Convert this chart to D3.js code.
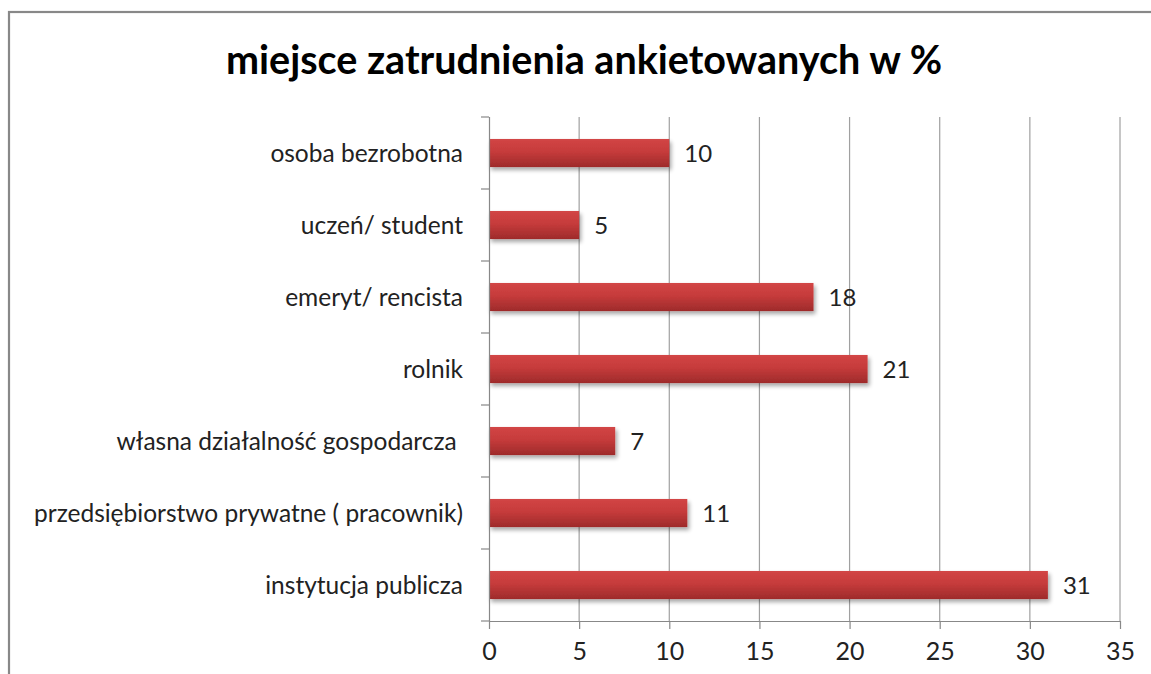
<!DOCTYPE html>
<html><head><meta charset="utf-8">
<script src="https://cdn.jsdelivr.net/npm/d3@7"></script>
<style>body{margin:0;background:#fff;} svg{display:block;}</style>
</head><body>
<svg id="chart" width="1151" height="674"></svg>
<script>
const title = "miejsce zatrudnienia ankietowanych w %";
const categories = ["osoba bezrobotna","uczeń/ student","emeryt/ rencista","rolnik","własna działalność gospodarcza ","przedsiębiorstwo prywatne ( pracownik)","instytucja publicza"];
const values = [10,5,18,21,7,11,31];
const xTicks = [0,5,10,15,20,25,30,35];

const svg = d3.select("#chart");
const font = "Lato, 'Open Sans', sans-serif";
const M = {left:489, right:1120, top:117, bottom:621};

svg.append("rect").attr("x",9).attr("y",12).attr("width",1200).attr("height",700)
  .attr("fill","#fff").attr("stroke","#888").attr("stroke-width",2.2);

const defs = svg.append("defs");
const g = defs.append("linearGradient").attr("id","barg").attr("x1",0).attr("y1",0).attr("x2",0).attr("y2",1);
g.append("stop").attr("offset","0%").attr("stop-color","#d24545");
g.append("stop").attr("offset","45%").attr("stop-color","#c63b3b");
g.append("stop").attr("offset","100%").attr("stop-color","#9e2b2b");
const f = defs.append("filter").attr("id","sh").attr("x","-5%").attr("y","-30%").attr("width","115%").attr("height","180%");
f.append("feGaussianBlur").attr("in","SourceAlpha").attr("stdDeviation",2.2).attr("result","b");
f.append("feOffset").attr("in","b").attr("dx",2).attr("dy",3).attr("result","o");
f.append("feComponentTransfer").attr("in","o").attr("result","o2").append("feFuncA").attr("type","linear").attr("slope",0.35);
const fm = f.append("feMerge"); fm.append("feMergeNode").attr("in","o2"); fm.append("feMergeNode").attr("in","SourceGraphic");

const x = d3.scaleLinear().domain([0,35]).range([M.left,M.right]);
const y = d3.scaleBand().domain(categories).range([M.top,M.bottom]).paddingInner(0.61).paddingOuter(0.305);

svg.append("text").attr("x",584).attr("y",74).attr("text-anchor","middle")
  .attr("font-family",font).attr("font-weight","bold").attr("font-size",39.5).attr("fill","#000").text(title);

// gridlines
svg.append("g").selectAll("line").data(xTicks.filter(d=>d>0)).join("line")
  .attr("x1",d=>x(d)).attr("x2",d=>x(d)).attr("y1",M.top).attr("y2",M.bottom)
  .attr("stroke","#a0a0a0").attr("stroke-width",1.2);

// bars
svg.append("g").selectAll("rect").data(values).join("rect")
  .attr("x",x(0)).attr("y",(d,i)=>y(categories[i])).attr("height",y.bandwidth())
  .attr("width",d=>x(d)-x(0)).attr("fill","url(#barg)").attr("filter","url(#sh)");

// value labels
svg.append("g").selectAll("text").data(values).join("text")
  .attr("x",d=>x(d)+15).attr("y",(d,i)=>y(categories[i])+y.bandwidth()/2).attr("dy","0.36em")
  .attr("font-family",font).attr("font-size",24).attr("fill","#222").text(d=>d);

// x axis
const xa = svg.append("g").attr("transform",`translate(0,${M.bottom})`)
  .call(d3.axisBottom(x).tickValues(xTicks).tickSize(8).tickPadding(13));
xa.select(".domain").attr("stroke","#888").attr("stroke-width",1.2).attr("d",`M${M.left},0.5H${M.right}`);
xa.selectAll(".tick line").attr("stroke","#888").attr("stroke-width",1.2);
xa.selectAll(".tick text").attr("font-family",font).attr("font-size",25).attr("fill","#222");

// y axis
const yb = d3.scaleLinear().domain([0,categories.length]).range([M.top,M.bottom]);
const ya = svg.append("g").attr("transform",`translate(${M.left},0)`);
ya.append("line").attr("x1",0.5).attr("x2",0.5).attr("y1",M.top).attr("y2",M.bottom).attr("stroke","#888").attr("stroke-width",1.2);
ya.selectAll(".t").data(d3.range(categories.length+1)).join("line")
  .attr("x1",-8).attr("x2",0).attr("y1",d=>yb(d)).attr("y2",d=>yb(d)).attr("stroke","#888").attr("stroke-width",1.2);
ya.selectAll("text").data(categories).join("text")
  .attr("x",-26).attr("y",d=>y(d)+y.bandwidth()/2).attr("dy","0.36em").attr("text-anchor","end")
  .attr("xml:space","preserve")
  .attr("font-family",font).attr("font-size",24.5).attr("fill","#222").text(d=>d);
</script>
</body></html>
